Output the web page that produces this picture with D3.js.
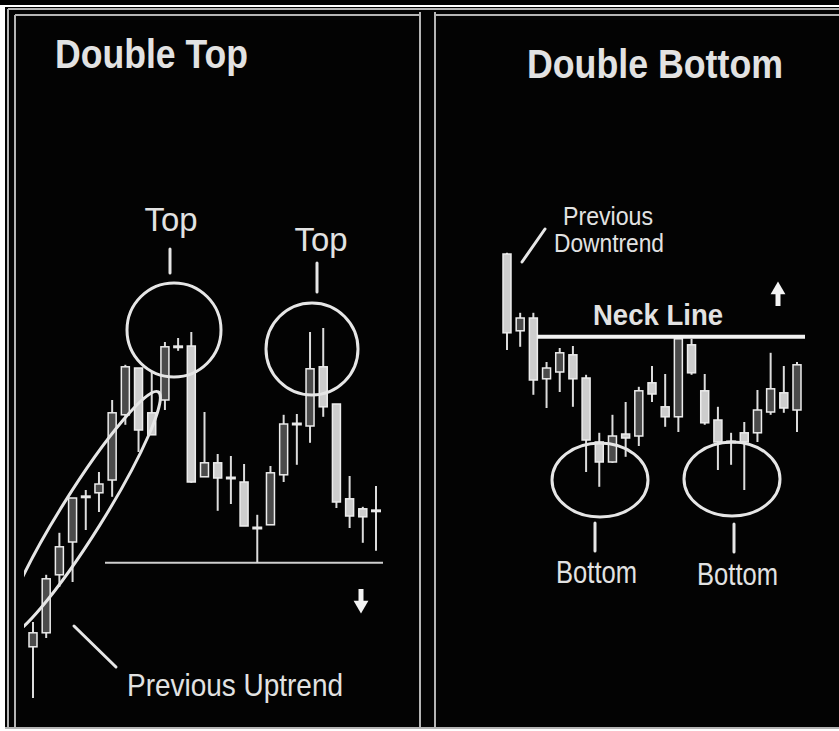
<!DOCTYPE html>
<html>
<head>
<meta charset="utf-8">
<script src="https://cdn.jsdelivr.net/npm/d3@7"></script>
<style>
  html, body { margin: 0; padding: 0; background: #fff; overflow: hidden; }
  svg { display: block; }
  text { font-family: "Liberation Sans", Arial, Helvetica, sans-serif; fill: #e2e2e2; }
</style>
</head>
<body>
<div id="chart"></div>
<script>
// candles are [open, high, low, close], price units read off the picture
// left panel : double top after an uptrend
const topCandles = [
  [18.3, 24.5, 5.5, 21.8], [21.8, 36.3, 20.5, 35.3], [36.3, 46.8, 33.3, 43.3],
  [44.5, 55.5, 34.5, 55.5], [55.8, 57.5, 47.5, 55.8], [56.8, 62.0, 52.0, 59.0],
  [60.0, 80.0, 55.8, 76.8], [76.3, 88.8, 73.8, 88.3], [88.0, 88.0, 67.0, 72.5],
  [76.8, 87.0, 71.3, 71.3], [80.0, 94.5, 77.5, 93.3], [93.3, 95.5, 92.3, 93.3],
  [93.5, 97.0, 59.3, 59.5], [60.8, 77.0, 60.8, 64.3], [64.3, 66.5, 52.3, 60.5],
  [60.5, 66.0, 54.0, 60.5], [59.5, 64.0, 48.5, 48.5], [48.0, 51.3, 39.3, 48.0],
  [48.8, 63.5, 48.8, 61.8], [61.3, 76.3, 59.5, 74.0], [74.0, 76.5, 63.8, 74.0],
  [73.5, 97.0, 69.3, 87.8], [88.3, 98.0, 75.8, 78.3], [79.0, 79.0, 53.0, 54.5],
  [55.3, 61.0, 48.0, 51.0], [52.8, 53.3, 44.3, 50.8], [52.3, 58.5, 42.3, 52.3]
];
// right panel : double bottom after a downtrend
const bottomCandles = [
  [116.5, 116.8, 92.5, 96.8], [97.3, 101.8, 93.3, 100.5], [100.5, 101.8, 81.3, 85.0],
  [85.3, 89.5, 78.0, 88.0], [87.0, 93.0, 82.0, 91.8], [91.3, 93.5, 78.3, 85.3],
  [85.5, 86.3, 62.0, 70.0], [69.5, 71.8, 58.3, 64.5], [64.5, 76.3, 64.3, 71.0],
  [71.5, 79.5, 65.8, 70.5], [71.0, 83.3, 68.5, 82.3], [84.3, 88.5, 79.5, 81.5],
  [78.3, 86.5, 73.3, 75.8], [75.8, 95.3, 72.0, 95.3], [93.8, 95.3, 86.3, 86.8],
  [82.3, 86.5, 73.8, 74.3], [75.0, 78.3, 62.5, 69.5], [69.5, 71.8, 63.8, 69.5],
  [71.8, 74.5, 57.5, 69.5], [71.8, 82.5, 69.5, 77.5], [77.0, 91.8, 76.3, 82.8],
  [81.8, 88.5, 76.8, 78.0], [77.5, 89.5, 72.0, 88.8]
];
const supportLevel = 39.3;
const neckLevel = 95.8;
const titles = ["Double Top", "Double Bottom"];

const W = 839, H = 731;

const svg = d3.select("#chart").append("svg")
  .attr("width", W).attr("height", H);

//--------------------------------------------------------------------------
// frame : black board with the grey double rules
svg.append("rect").attr("x", 0).attr("y", 0).attr("width", W).attr("height", 5).attr("fill", "#000");
svg.append("rect").attr("x", 5).attr("y", 7).attr("width", W - 5).attr("height", 722).attr("fill", "#030303");

const rule = (x1, y1, x2, y2) => svg.append("line")
  .attr("x1", x1).attr("y1", y1).attr("x2", x2).attr("y2", y2)
  .attr("stroke", "#b5b5b5").attr("stroke-width", 2);
rule(8, 9, W, 9);
rule(15, 15, 420, 15);
rule(435, 15, W, 15);
rule(8, 9, 8, 728);
rule(15, 15, 15, 727);
rule(420, 12, 420, 729);
rule(435, 12, 435, 729);
rule(5, 728, W, 728);

//--------------------------------------------------------------------------
const y = d3.scaleLinear().domain([0, 120]).range([720, 240]);
const xTop = d3.scaleLinear().domain([0, topCandles.length - 1]).range([33, 376]);
const xBottom = d3.scaleLinear().domain([0, bottomCandles.length - 1]).range([507, 797]);

function drawCandles(data, x) {
  const g = svg.append("g");
  const c = g.selectAll("g.candle").data(data).enter().append("g").attr("class", "candle");
  c.append("line")
    .attr("x1", (d, i) => x(i)).attr("x2", (d, i) => x(i))
    .attr("y1", d => y(d[1])).attr("y2", d => y(d[2]))
    .attr("stroke", "#dcdcdc").attr("stroke-width", 2);
  c.filter(d => d[0] === d[3]).append("line")
    .attr("x1", function(d) { return x(data.indexOf(d)) - 5; })
    .attr("x2", function(d) { return x(data.indexOf(d)) + 5; })
    .attr("y1", d => y(d[0])).attr("y2", d => y(d[0]))
    .attr("stroke", "#e8e8e8").attr("stroke-width", 3);
  c.filter(d => d[0] !== d[3]).append("rect")
    .attr("x", function(d) { return x(data.indexOf(d)) - 4; })
    .attr("y", d => y(Math.max(d[0], d[3])))
    .attr("width", 8)
    .attr("height", d => Math.max(2, Math.abs(y(d[0]) - y(d[3]))))
    .attr("fill", d => d[3] > d[0] ? "#4b4b4b" : "#cdcdcd")
    .attr("stroke", "#ececec").attr("stroke-width", 1.5);
}

function label(txt, x, yy, size, opts) {
  opts = opts || {};
  const t = svg.append("text").attr("x", x).attr("y", yy)
    .attr("font-size", size).attr("font-weight", opts.bold ? "bold" : "normal")
    .attr("text-anchor", opts.anchor || "start").text(txt);
  if (opts.len) t.attr("textLength", opts.len).attr("lengthAdjust", "spacingAndGlyphs");
  return t;
}

function stroke(x1, y1, x2, y2, w) {
  return svg.append("line").attr("x1", x1).attr("y1", y1).attr("x2", x2).attr("y2", y2)
    .attr("stroke", "#e6e6e6").attr("stroke-width", w || 3).attr("stroke-linecap", "round");
}

function arrow(cx, cy, up) {
  const g = svg.append("g").attr("transform", `translate(${cx},${cy})`);
  const s = up ? -1 : 1;
  g.append("line").attr("x1", 0).attr("x2", 0).attr("y1", -11 * s).attr("y2", 2 * s)
    .attr("stroke", "#f4f4f4").attr("stroke-width", 5);
  g.append("path").attr("d", d3.symbol(d3.symbolTriangle, 95)())
    .attr("transform", `translate(0,${5 * s}) rotate(${up ? 0 : 180})`)
    .attr("fill", "#f4f4f4");
}

//--------------------------------------------------------------------------
// left panel
label(titles[0], 55, 68, 40, { bold: true, len: 193 });

svg.append("line")
  .attr("x1", 105).attr("x2", 383).attr("y1", y(supportLevel)).attr("y2", y(supportLevel))
  .attr("stroke", "#cfcfcf").attr("stroke-width", 2);

drawCandles(topCandles, xTop);

svg.append("clipPath").attr("id", "trendClip")
  .append("rect").attr("x", 24).attr("y", 15).attr("width", 396).attr("height", 712);
svg.append("g").attr("clip-path", "url(#trendClip)")
  .append("ellipse")
  .attr("transform", "translate(82,514) rotate(-58)")
  .attr("rx", 144).attr("ry", 21)
  .attr("fill", "none").attr("stroke", "#e6e6e6").attr("stroke-width", 3);

[[174, 330, 47], [312, 349, 46]].forEach(c => {
  svg.append("circle").attr("cx", c[0]).attr("cy", c[1]).attr("r", c[2])
    .attr("fill", "none").attr("stroke", "#e6e6e6").attr("stroke-width", 3);
});

label("Top", 171, 231, 34, { anchor: "middle", len: 53 });
stroke(170, 249, 170, 273);
label("Top", 321, 251, 34, { anchor: "middle", len: 53 });
stroke(317, 263, 317, 292);

stroke(74, 626, 116, 667);
label("Previous Uptrend", 127, 696, 32, { len: 216 });

arrow(361, 600, false);

//--------------------------------------------------------------------------
// right panel
label(titles[1], 527, 78, 40, { bold: true, len: 256 });

drawCandles(bottomCandles, xBottom);

svg.append("line")
  .attr("x1", 537).attr("x2", 805).attr("y1", y(neckLevel)).attr("y2", y(neckLevel))
  .attr("stroke", "#f2f2f2").attr("stroke-width", 4);
label("Neck Line", 593, 325, 30, { bold: true, len: 130 });
arrow(778, 295, true);

stroke(522, 262, 545, 229);
label("Previous", 563, 225, 25, { len: 90 });
label("Downtrend", 554, 252, 25, { len: 110 });

[[600, 480], [732, 479]].forEach(c => {
  svg.append("ellipse").attr("cx", c[0]).attr("cy", c[1]).attr("rx", 48).attr("ry", 37)
    .attr("fill", "none").attr("stroke", "#e6e6e6").attr("stroke-width", 3);
});
stroke(595, 523, 595, 551);
stroke(734, 524, 734, 552);
label("Bottom", 556, 583, 32, { len: 81 });
label("Bottom", 697, 585, 32, { len: 81 });
</script>
</body>
</html>
